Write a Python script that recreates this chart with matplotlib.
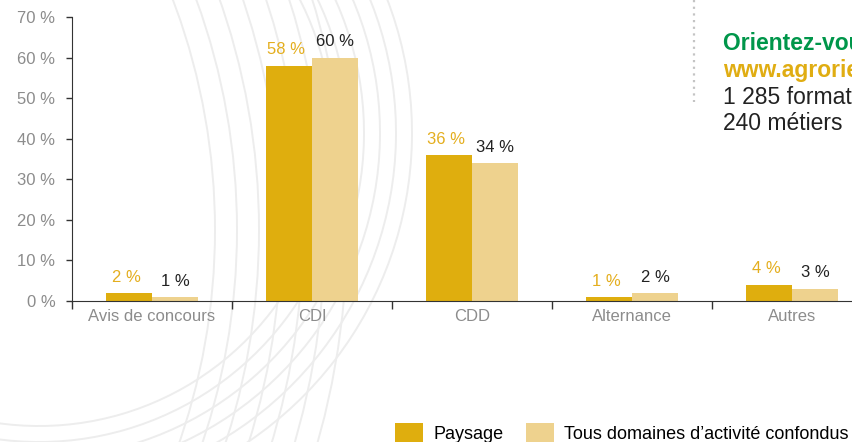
import numpy as np
import matplotlib.pyplot as plt
from matplotlib.patches import Arc

plt.rcParams['font.family'] = ['Liberation Sans', 'DejaVu Sans']

# Données : type de contrat
categories = ['Avis de concours', 'CDI', 'CDD', 'Alternance', 'Autres']
paysage = [2, 58, 36, 1, 4]
tous_domaines = [1, 60, 34, 2, 3]
y_ticks = [0, 10, 20, 30, 40, 50, 60, 70]

c_paysage = '#dfae0e'
c_tous = '#eed28e'
c_label_paysage = '#e4ae1e'
c_gris = '#8c8c8c'

W, H = 852, 442
fig = plt.figure(figsize=(W / 100, H / 100), dpi=100)

# Fond décoratif (arcs gris clair) en coordonnées pixels
bg = fig.add_axes([0, 0, 1, 1], zorder=0)
bg.set_xlim(0, W)
bg.set_ylim(H, 0)
bg.axis('off')
for k in range(7):
    r = 651 + k * 22
    bg.add_patch(Arc((-436, 230), 2 * r, 2 * r, theta1=-40, theta2=40,
                     color='#ededed', lw=1.4))
for k in range(6):
    r = 293 + k * 16
    bg.add_patch(Arc((39, 133), 2 * r, 2 * r, theta1=-35, theta2=110,
                     color='#ededed', lw=1.4))
bg.plot([694, 694], [0, 102], color='#c4c4c4', lw=1.6, ls=(0, (1, 2)))

# Graphique principal
ax = fig.add_axes([72 / W, (H - 301) / H, 800 / W, 284 / H], zorder=1)
ax.patch.set_alpha(0)

x = np.arange(len(categories))
w = 0.2875
b1 = ax.bar(x - w / 2, paysage, w, color=c_paysage, label='Paysage')
b2 = ax.bar(x + w / 2, tous_domaines, w, color=c_tous,
            label='Tous domaines d\u2019activité confondus')

for xi, v in zip(x - w / 2, paysage):
    ax.annotate(f'{v} %', (xi, v), xytext=(-2, 6), textcoords='offset points',
                ha='center', va='bottom', fontsize=12, color=c_label_paysage)
for xi, v in zip(x + w / 2, tous_domaines):
    ax.annotate(f'{v} %', (xi, v), xytext=(0, 6), textcoords='offset points',
                ha='center', va='bottom', fontsize=12, color='#222222')

ax.set_xlim(-0.5, 4.5)
ax.set_ylim(0, 70)
ax.set_yticks(y_ticks, [f'{t} %' for t in y_ticks])
ax.set_xticks(np.arange(-0.5, 4.5, 1), [])
ax.set_xticks(x, categories, minor=True)
ax.tick_params(axis='x', which='major', length=6, width=1, color='#333333')
ax.tick_params(axis='x', which='minor', length=0, pad=6)
ax.tick_params(axis='y', length=4, width=1, color='#333333', pad=8)
for lab in ax.get_xticklabels(minor=True) + ax.get_yticklabels():
    lab.set_color(c_gris)
    lab.set_fontsize(12)

for s in ['top', 'right']:
    ax.spines[s].set_visible(False)
ax.spines['left'].set_color('#333333')
ax.spines['bottom'].set_color('#333333')

# Encart texte à droite (coupé par le bord de la figure)
fig.text(723 / W, 1 - 43 / H, 'Orientez-vous sur', color='#00964a',
         fontsize=16.5, fontweight='bold', va='center')
fig.text(723 / W, 1 - 70 / H, 'www.agrorientation.com', color='#e0ad12',
         fontsize=16.5, fontweight='bold', va='center')
fig.text(723 / W, 1 - 97 / H, '1 285 formations', color='#222222',
         fontsize=16.5, va='center')
fig.text(723 / W, 1 - 123 / H, '240 métiers', color='#222222',
         fontsize=16.5, va='center')

fig.legend(handles=[b1, b2], loc='upper left',
           bbox_to_anchor=(395 / W, 1 - 423 / H), ncol=2, frameon=False,
           fontsize=13, handlelength=1.55, handleheight=1.3,
           handletextpad=0.6, columnspacing=1.2, borderpad=0,
           borderaxespad=0)

fig.savefig('out.png', dpi=100)
